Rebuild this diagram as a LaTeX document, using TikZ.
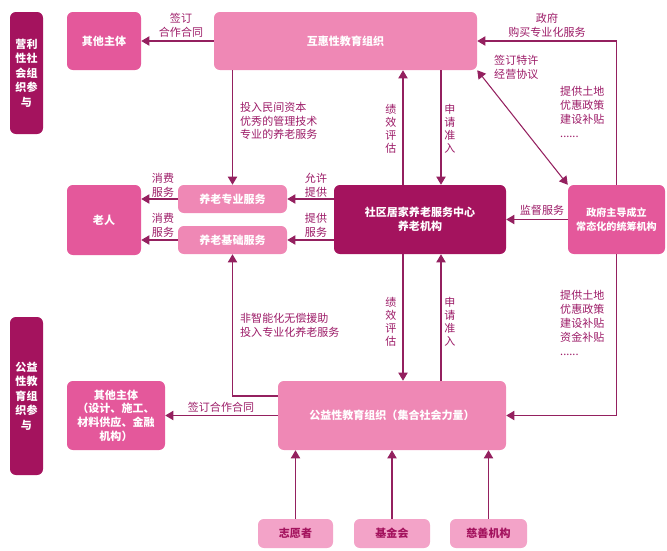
\documentclass[tikz,border=0pt]{standalone}
\usepackage{fontspec}
\setmainfont{Noto Sans CJK SC}
\usetikzlibrary{arrows.meta,calc}
\definecolor{cdark}{HTML}{A4135E}
\definecolor{cmid}{HTML}{E4589B}
\definecolor{clight}{HTML}{EF88B5}
\definecolor{cpale}{HTML}{F3A3C8}
\definecolor{cline}{HTML}{94205F}
\definecolor{ctext}{HTML}{9C1B67}
\begin{document}
\begin{tikzpicture}[x=0.03cm,y=-0.03cm,
  box/.style={rounded corners=5pt,inner sep=0pt,align=center,text=white,
    font=\fontsize{9.4}{11.7}\selectfont\bfseries},
  sz/.style 2 args={minimum width=#1*0.03cm,minimum height=#2*0.03cm},
  side/.style={box,fill=cdark,font=\fontsize{9.4}{12.4}\selectfont\bfseries},
  lbl/.style={text=ctext,inner sep=0pt,align=left,font=\fontsize{9.4}{11.8}\selectfont},
  vlbl/.style={lbl,align=center,font=\fontsize{9.4}{11.2}\selectfont},
  arr/.style={draw=cline,line width=0.9pt,-{Triangle[width=8pt,length=7pt]}},
  darr/.style={arr,{Triangle[width=8pt,length=7pt]}-{Triangle[width=8pt,length=7pt]}}]
\useasboundingbox (0,0) rectangle (667,550);
\node[side,sz={33}{122}] (side1) at (26.5,73) {营利\\性社\\会组\\织参\\与};
\node[side,sz={33}{158}] (side2) at (26.5,396) {公益\\性教\\育组\\织参\\与};
\node[box,fill=cmid,sz={74}{58}] (other1) at (104,41) {其他主体};
\node[box,fill=clight,sz={263}{58}] (huhui) at (345.5,41) {互惠性教育组织};
\node[box,fill=cmid,sz={74}{70}] (laoren) at (104,220) {老人};
\node[box,fill=clight,sz={109}{28}] (zhuanye) at (232.5,199) {养老专业服务};
\node[box,fill=clight,sz={109}{28}] (jichu) at (232.5,240) {养老基础服务};
\node[box,fill=cdark,sz={172}{69}] (shequ) at (420,219.5) {社区居家养老服务中心\\养老机构};
\node[box,fill=cmid,sz={97}{69},font=\fontsize{8.6}{11.7}\selectfont\bfseries] (zhengfu) at (616.5,219.5) {政府主导成立\\常态化的统筹机构};
\node[box,fill=cmid,sz={98}{69}] (other2) at (116,415.5) {其他主体\\（设计、施工、\\材料供应、金融\\机构）};
\node[box,fill=clight,sz={228}{69}] (gongyi) at (392,415.5) {公益性教育组织（集合社会力量）};
\node[box,fill=cpale,text=cdark,sz={75}{29}] (zyz) at (295.5,533.5) {志愿者};
\node[box,fill=cpale,text=cdark,sz={76}{29}] (jjh) at (392,533.5) {基金会};
\node[box,fill=cpale,text=cdark,sz={77}{29}] (csjg) at (488.5,533.5) {慈善机构};
\coordinate (c1) at (403,0);
\coordinate (c2) at (441,0);
\draw[arr] (huhui.west) -- (other1.east);
\draw[arr] (huhui.south -| zhuanye.north) -- (zhuanye.north);
\draw[arr] (zhuanye.west) -- (zhuanye.west -| laoren.east);
\draw[arr] (jichu.west) -- (jichu.west -| laoren.east);
\draw[arr] (shequ.west |- zhuanye.east) -- (zhuanye.east);
\draw[arr] (shequ.west |- jichu.east) -- (jichu.east);
\draw[arr] (zhengfu.west) -- (shequ.east);
\draw[arr] (shequ.north -| c1) -- (huhui.south -| c1);
\draw[arr] (huhui.south -| c2) -- (shequ.north -| c2);
\draw[arr] (shequ.south -| c1) -- (gongyi.north -| c1);
\draw[arr] (gongyi.north -| c2) -- (shequ.south -| c2);
\draw[arr] (zhengfu.north) |- (huhui.east);
\draw[darr] (huhui.south east) -- (zhengfu.north west);
\draw[arr] (zhengfu.south) |- (gongyi.east);
\draw[arr] (gongyi.west) -- (other2.east);
\draw[arr] ($(gongyi.west)+(0,-19.5)$) -| (jichu.south);
\foreach \n in {zyz,jjh,csjg}
  \draw[arr] (\n.north) -- (\n.north |- gongyi.south);
\node[lbl,align=center] (t1) at (181,25) {签订\\合作合同};
\node[lbl,anchor=west] (t2) at (240,121) {投入民间资本\\优秀的管理技术\\专业的养老服务};
\node[lbl,align=center] (t3) at (163,185) {消费\\服务};
\node[lbl,align=center] (t4) at (163,225) {消费\\服务};
\node[lbl,align=center] (t5) at (316,185) {允许\\提供};
\node[lbl,align=center] (t6) at (316,225) {提供\\服务};
\node[lbl] (t7) at (542,210) {监督服务};
\node[vlbl] (t8) at (391,129) {绩\\效\\评\\估};
\node[vlbl] (t9) at (450,129) {申\\请\\准\\入};
\node[vlbl] (t10) at (391,322) {绩\\效\\评\\估};
\node[vlbl] (t11) at (450,322) {申\\请\\准\\入};
\node[lbl,align=center] (t12) at (547,25) {政府\\购买专业化服务};
\node[lbl,anchor=west] (t13) at (494,67) {签订特许\\经营协议};
\node[lbl,anchor=west] (t14) at (560,112) {提供土地\\优惠政策\\建设补贴\\......};
\node[lbl,anchor=west] (t15) at (560,323) {提供土地\\优惠政策\\建设补贴\\资金补贴\\......};
\node[lbl,anchor=west] (t16) at (240,325.5) {非智能化无偿援助\\投入专业化养老服务};
\node[lbl] (t17) at (221,407) {签订合作合同};
\end{tikzpicture}
\end{document}
